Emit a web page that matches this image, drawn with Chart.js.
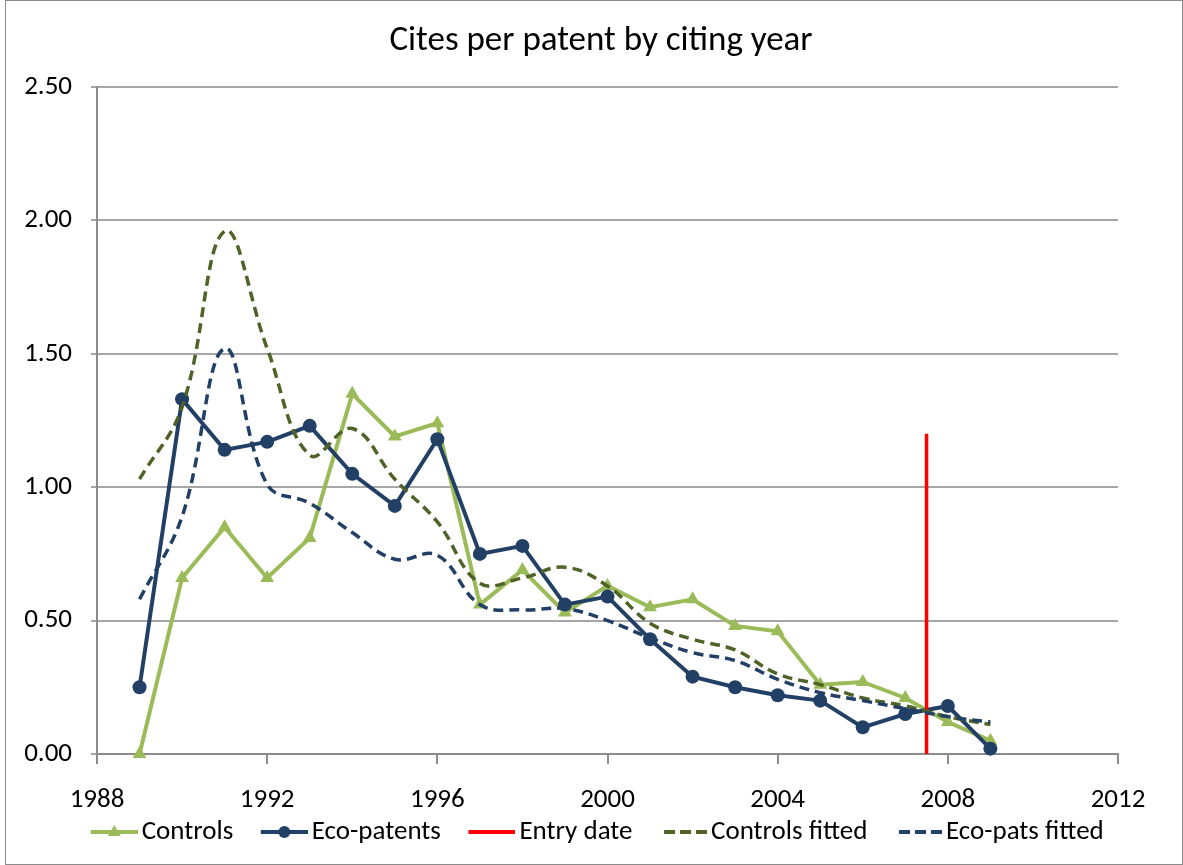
<!DOCTYPE html>
<html>
<head>
<meta charset="utf-8">
<script src="https://cdn.jsdelivr.net/npm/chart.js@4.4.1/dist/chart.umd.min.js"></script>
<style>
  html, body { margin: 0; padding: 0; background: #fff; }
  #marco { position: absolute; left: 5px; top: 0; width: 1176px; height: 863px; border: 1px solid #8c8c8c; pointer-events: none; }
  #grafico { position: absolute; left: 0; top: 0; }
</style>
</head>
<body>
<canvas id="grafico" width="1183" height="865"></canvas>
<div id="marco"></div>
<script>
// años de cita
const years = [1989, 1990, 1991, 1992, 1993, 1994, 1995, 1996, 1997, 1998, 1999,
               2000, 2001, 2002, 2003, 2004, 2005, 2006, 2007, 2008, 2009];

// series observadas
const controls   = [0.00, 0.66, 0.85, 0.66, 0.81, 1.35, 1.19, 1.24, 0.56, 0.69, 0.53,
                    0.63, 0.55, 0.58, 0.48, 0.46, 0.26, 0.27, 0.21, 0.12, 0.05];
const ecoPatents = [0.25, 1.33, 1.14, 1.17, 1.23, 1.05, 0.93, 1.18, 0.75, 0.78, 0.56,
                    0.59, 0.43, 0.29, 0.25, 0.22, 0.20, 0.10, 0.15, 0.18, 0.02];

// series ajustadas (suavizadas)
const controlsFitted = [1.03, 1.30, 1.96, 1.52, 1.12, 1.22, 1.03, 0.87, 0.64, 0.66, 0.70,
                        0.63, 0.49, 0.43, 0.39, 0.30, 0.26, 0.21, 0.18, 0.14, 0.11];
const ecoFitted      = [0.58, 0.89, 1.52, 1.01, 0.94, 0.83, 0.73, 0.745, 0.56, 0.54, 0.545,
                        0.50, 0.435, 0.38, 0.35, 0.28, 0.23, 0.20, 0.17, 0.14, 0.12];

// linea vertical de fecha de entrada
const entryX = [2007.5, 2007.5];
const entryY = [0, 1.2];

// ticks de los ejes
const xTicks = [1988, 1992, 1996, 2000, 2004, 2008, 2012];
const yTicks = [0, 0.5, 1.0, 1.5, 2.0, 2.5];

const fuente = 'Carlito, Lato, sans-serif';
const verde = '#9bbb59';
const azul = '#223f66';
const oliva = '#4f6228';
const rojo = '#ff0000';

function puntos(xs, ys) {
  return xs.map((x, i) => ({ x: x, y: ys[i] }));
}

// simbolo de leyenda estilo excel: linea + marcador
function simbolo(color, dash, marcador) {
  const c = document.createElement('canvas');
  c.width = 49; c.height = 20;
  const g = c.getContext('2d');
  g.strokeStyle = color;
  g.fillStyle = color;
  g.lineWidth = 4;
  g.setLineDash(dash);
  g.beginPath();
  g.moveTo(dash.length ? 6 : 2, 10);
  g.lineTo(49, 10);
  g.stroke();
  g.setLineDash([]);
  if (marcador === 'triangle') {
    g.beginPath();
    g.moveTo(25.5, 3); g.lineTo(32, 14); g.lineTo(19, 14);
    g.closePath(); g.fill();
  } else if (marcador === 'circle') {
    g.beginPath();
    g.arc(25.5, 10, 6, 0, Math.PI * 2);
    g.fill();
  }
  return c;
}

const simbolos = [
  simbolo(verde, [], 'triangle'),
  simbolo(azul, [], 'circle'),
  simbolo(rojo, [], null),
  simbolo(oliva, [11, 5], null),
  simbolo(azul, [11, 5], null)
];

const ctx = document.getElementById('grafico');

new Chart(ctx, {
  type: 'line',
  data: {
    datasets: [
      {
        label: 'Controls',
        data: puntos(years, controls),
        borderColor: verde, backgroundColor: verde,
        borderWidth: 4, tension: 0, clip: false,
        pointStyle: 'triangle', pointRadius: 8,
        pointBackgroundColor: verde, pointBorderColor: verde, pointBorderWidth: 0,
        order: 5
      },
      {
        label: 'Eco-patents',
        data: puntos(years, ecoPatents),
        borderColor: azul, backgroundColor: azul,
        borderWidth: 4, tension: 0, clip: false,
        pointStyle: 'circle', pointRadius: 7,
        pointBackgroundColor: azul, pointBorderColor: azul, pointBorderWidth: 0,
        order: 4
      },
      {
        label: 'Entry date',
        data: puntos(entryX, entryY),
        borderColor: rojo, backgroundColor: rojo,
        borderWidth: 3.5, pointRadius: 0,
        order: 3
      },
      {
        label: 'Controls fitted',
        data: puntos(years, controlsFitted),
        borderColor: oliva, backgroundColor: oliva,
        borderWidth: 3.5, borderDash: [10, 6], tension: 0.4,
        pointRadius: 0,
        order: 2
      },
      {
        label: 'Eco-pats fitted',
        data: puntos(years, ecoFitted),
        borderColor: azul, backgroundColor: azul,
        borderWidth: 3.5, borderDash: [10, 6], tension: 0.4,
        pointRadius: 0,
        order: 1
      }
    ]
  },
  options: {
    responsive: false,
    animation: false,
    layout: { padding: { left: 24, right: 5, top: 0, bottom: 9.5 } },
    plugins: {
      title: {
        display: true,
        text: 'Cites per patent by citing year',
        color: '#000',
        font: { family: fuente, size: 35, weight: 'normal' },
        padding: { top: 20, bottom: 25 }
      },
      legend: {
        position: 'bottom',
        labels: {
          color: '#000',
          font: { family: fuente, size: 27 },
          usePointStyle: true,
          pointStyleWidth: 30,
          padding: 35,
          generateLabels(chart) {
            return chart.data.datasets.map((ds, i) => ({
              text: ds.label,
              pointStyle: simbolos[i],
              fontColor: '#000',
              lineWidth: 0,
              hidden: false,
              datasetIndex: i
            }));
          }
        }
      },
      tooltip: { enabled: false }
    },
    scales: {
      x: {
        type: 'linear',
        min: xTicks[0],
        max: xTicks[xTicks.length - 1],
        afterBuildTicks(s) { s.ticks = xTicks.map(v => ({ value: v })); },
        afterFit(s) {
          // eje compacto; las etiquetas se dibujan por debajo sin recorte
          s.height = 29.5;
          s._computeLabelArea = () => undefined;
        },
        ticks: {
          color: '#000',
          font: { family: fuente, size: 27 },
          padding: 20,
          maxRotation: 0,
          callback: v => String(v)
        },
        grid: { drawOnChartArea: false, drawTicks: true, tickLength: 10, color: '#8c8c8c', lineWidth: 2 },
        border: { color: '#8c8c8c', width: 2 }
      },
      y: {
        min: yTicks[0],
        max: yTicks[yTicks.length - 1],
        afterBuildTicks(s) { s.ticks = yTicks.map(v => ({ value: v })); },
        afterFit(s) { s.width = 73; },
        ticks: {
          color: '#000',
          font: { family: fuente, size: 27 },
          padding: 19,
          callback: v => v.toFixed(2)
        },
        grid: { color: '#a6a6a6', lineWidth: 2, tickLength: 6 },
        border: { color: '#8c8c8c', width: 2 }
      },
      derecha: {
        position: 'right',
        display: true,
        afterFit(s) { s.width = 60; },
        ticks: { display: false },
        grid: { display: false },
        border: { display: false }
      }
    }
  }
});
</script>
</body>
</html>
